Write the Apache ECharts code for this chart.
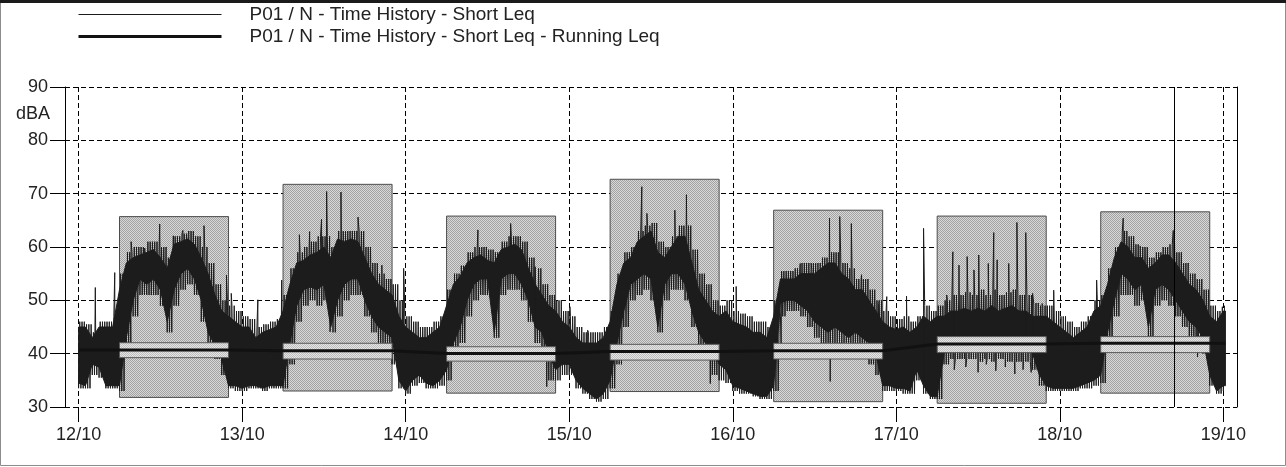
<!DOCTYPE html>
<html>
<head>
<meta charset="utf-8">
<title>P01 / N - Time History</title>
<script src="https://cdn.jsdelivr.net/npm/echarts@6/dist/echarts.min.js"></script>
<style>
  html, body { margin: 0; padding: 0; background: #fff; }
  #chart { width: 1286px; height: 467px; }
</style>
</head>
<body>
<div id="chart"></div>
<script>
// Measurement start: 12/10 00:00 (local time); all series are given in hours from here.
const BASE = new Date(2023, 9, 12, 0, 0, 0).getTime();
const HOUR = 3600000;

// Short Leq, hourly core band (where most samples lie), hours 0..168
const shortLeqLow = [
  34.5, 34, 38, 37.5, 34, 34, 34, 43, 50, 54, 53, 54, 52, 46, 52, 55, 56, 54, 50, 44, 41.5, 39, 34, 34,
  33.5, 34, 34, 33.5, 34, 34, 34, 42, 49, 52, 52.5, 52, 53, 45, 50, 53, 54, 54, 50, 47, 45, 44, 43, 35,
  33, 35, 36, 34.5, 34, 35, 37, 42, 45, 50, 53, 54, 54, 44, 54, 55, 55, 53, 50, 45, 44, 40, 37, 38,
  38, 35, 33.5, 32.5, 31.5, 32.5, 35, 42, 48, 53, 54, 55, 54, 45, 53, 55, 55, 53, 48, 44, 42, 41, 38, 37,
  34, 33.5, 33, 32.5, 32, 32, 34, 49.5, 50, 50, 49, 48, 46, 45, 44, 45, 44, 43, 44, 43, 42, 40, 34, 34,
  33.5, 33.5, 33, 37, 34, 32, 32, 40, 42, 42, 42, 42, 41, 42, 41, 42, 41, 41, 41, 41, 40, 36, 34, 33.5,
  33.5, 33.5, 33.5, 34, 34.5, 35, 36, 44, 50, 55, 54, 52, 53, 45, 52, 53, 52, 50, 48, 46, 45, 43, 36, 33,
  34
];
const shortLeqHigh = [
  45, 45, 43, 45, 45, 45, 52, 57, 58, 58.5, 59, 59.5, 58, 56, 60.5, 61, 61.5, 60.5, 58, 55, 51, 48, 47, 46,
  45, 45, 43, 44, 44.5, 45, 48, 53, 57, 57.5, 58.5, 59, 60, 58, 61.5, 61, 61.5, 61, 58, 55, 53, 52, 51, 47,
  45, 44, 43, 43, 44, 45, 49, 53, 54.5, 57, 58, 58.5, 57.5, 57, 59.5, 60, 60.5, 59.5, 56, 53, 51, 49, 48, 46,
  45, 43, 42, 42, 42, 43, 46, 53, 57, 58, 61, 62, 63, 59, 58, 60, 62, 62, 57, 52, 50, 48, 47, 48,
  46, 45.5, 45, 44, 44, 43, 47, 54, 54, 54, 55, 55, 55, 56, 57, 57, 55, 54, 52, 52, 50, 48, 46, 45,
  44.5, 45, 44, 45, 47, 46, 47, 47, 48, 48, 48.5, 48, 48.5, 48, 49, 48, 48.5, 49, 48, 48, 47, 47, 47, 46,
  45, 44, 43, 44, 45, 48, 49, 53, 58, 61, 60, 58, 58, 56, 57, 58.5, 58.5, 57, 55, 53, 52, 50, 47, 46,
  48
];
// Short Leq, hourly extremes (minimum and maximum sample in each hour), hours 0..168
const shortLeqMin = [
  33.5, 33.5, 36, 35.5, 33.5, 33.5, 33, 40, 47, 51, 51, 51, 49, 44, 49, 52, 53, 51, 46, 41, 39, 36, 33.5, 33,
  33, 33.5, 33.5, 33, 33.5, 33.5, 33.5, 38, 46, 49, 50, 49, 50, 44, 47, 50, 51, 51, 47, 44, 42, 41, 38, 33.5,
  32.5, 34, 34.5, 33.5, 33.5, 34, 35, 39, 42, 47, 50, 51, 51, 43, 51, 52, 52, 50, 46, 42, 40, 35, 35, 36,
  36, 33.5, 32.5, 31.5, 31, 31.5, 33.5, 38, 45, 50, 51, 52, 50, 44, 50, 52, 52, 50, 45, 41, 39, 36, 35, 34.5,
  33, 32.5, 32.5, 32, 31.5, 31.5, 33, 47, 48, 48, 47, 45, 43, 42, 42, 42, 42, 41, 41, 40, 38, 36, 33, 33,
  33, 32.5, 32.5, 35, 32.5, 31.5, 31.5, 38, 39, 39, 39, 39, 38.5, 39, 38.5, 39, 38.5, 38.5, 38.5, 38.5, 37, 34, 33, 33,
  33, 33, 33, 33.5, 33.5, 34, 34.5, 41, 47, 51, 51, 49, 50, 43, 49, 50, 49, 47, 45, 43, 42, 40, 34, 32.5,
  33
];
const shortLeqMax = [
  46, 45.5, 44, 46, 46, 47, 55, 59, 60, 60, 61, 61, 60, 58, 62, 62.5, 63, 62, 60, 57, 53, 50, 49, 48,
  47, 46.5, 45, 45.5, 46, 46.5, 51, 56, 59, 60, 61, 62, 62, 60, 63, 63, 63, 63, 60, 57, 55, 54, 53, 50,
  47, 46, 45, 45, 46, 47, 52, 55, 56.5, 59, 60, 60, 59.5, 59, 61, 62, 62, 61, 58, 56, 53, 51, 50, 48,
  47, 45, 44, 44, 44, 45, 48, 55, 59, 60, 63, 64, 64.5, 61, 60, 62, 64, 64, 59.5, 55, 53, 50, 49, 50,
  48, 47.5, 47, 46, 46, 45, 50, 55.5, 55.5, 56, 57, 57, 57, 58, 59, 59, 57, 56, 54, 54, 52, 50, 48, 47,
  46.5, 47, 46, 47, 49, 48, 49, 50, 51, 51, 51.5, 51, 52, 51, 52, 51, 51.5, 52, 51, 51, 49.5, 49, 49, 48,
  47, 46, 45, 46, 47, 50, 51, 56, 60, 63, 62, 60.5, 60, 58, 59, 60, 60.5, 59, 57, 55, 54, 52, 49, 48,
  49
];
// Isolated events standing out of the trace: [hour, dBA]
const shortLeqPeaks = [
  [2.45, 52.4], [5.3, 55.2], [7.7, 61], [9.7, 59.8], [11.9, 64.3], [13.9, 62.1], [15.3, 63.1], [16.1, 62.4],
  [18.4, 64], [21.2, 38.5], [21.7, 54.7], [22.4, 51.3], [26.3, 50.1],
  [29.8, 53.8], [32.4, 62.3], [33.9, 62.9], [35.65, 65.2], [36.4, 70.4], [36.9, 44.1], [38.5, 70.3],
  [41.0, 65.6], [44.5, 56.6], [47.7, 56], [53.5, 46.3],
  [58.6, 63.2], [61.0, 43.8], [63.4, 64.4], [67.0, 56.3], [68.7, 33.8], [72.1, 48.8], [74.7, 44.4],
  [82.65, 71.3], [83.4, 66.3],
  [87.5, 66.9], [89.2, 69.8], [91.9, 55], [92.7, 34.4], [96.5, 52.6], [103.1, 41],
  [105.9, 56.9], [107.6, 55.7], [109.3, 58.2], [110.2, 65.4], [110.3, 34.8], [111.7, 65.7],
  [113.4, 64.4], [114.9, 54.8], [117.4, 49.4], [118.6, 50.7], [121.5, 50.8], [124.0, 63.5], [127.4, 51],
  [128.3, 59.1], [128.5, 37], [129.2, 56.6], [130.2, 37.5], [130.4, 58.2], [131.4, 55.7], [132.0, 36.5],
  [132.1, 58.5], [133.2, 38], [133.5, 56.9], [134.3, 62.7], [134.6, 36.8], [134.8, 57.6], [136.0, 37.5],
  [136.5, 56.9], [137.4, 36.2], [137.7, 64.6], [138.6, 37], [139.0, 62.7], [139.8, 36.5], [140.0, 51.3],
  [140.8, 37.5], [141.4, 49.4],
  [143.1, 51.9], [149.4, 53.8], [153.3, 65.4], [155.8, 60.2], [159.8, 59.3], [160.65, 63.1],
  [164.2, 39.4], [165.2, 49.4], [167.85, 48.8]
];
const traceEndHour = 168.3;

// Daytime periods 06:00-22:00: start/end hour, min and max level of the period
const periodStart = [6, 30, 54, 78, 102, 126, 150];
const periodEnd = [22, 46, 70, 94, 118, 142, 166];
const periodMin = [31.8, 33, 32.6, 32.9, 31, 30.7, 32.6];
const periodMax = [65.7, 71.75, 65.8, 72.7, 66.9, 65.8, 66.6];
// Band around the running Leq inside each period
const bandLow = [39.25, 39.0, 38.6, 38.8, 39.0, 40.2, 40.2];
const bandHigh = [42.05, 41.95, 41.3, 41.75, 41.95, 43.2, 43.2];

// Running Leq
const runLeqHours = [0, 6, 22, 30, 46, 54, 70, 78, 94, 102, 118, 126, 142, 150, 166, 168.3];
const runLeqValues = [40.7, 40.7, 40.7, 40.55, 40.55, 40.05, 40.05, 40.4, 40.4, 40.55, 40.55, 41.8, 41.8, 41.95, 41.95, 41.95];

// Cursor position (18/10 16:45)
const cursorHour = 160.75;

const seriesNames = [
  'P01 / N - Time History - Short Leq',
  'P01 / N - Time History - Short Leq - Running Leq'
];

const toTime = h => BASE + h * HOUR;
const lastIdx = shortLeqLow.length - 1;

// Core band outline: upper edge forward, lower edge backward
const envHours = shortLeqLow.map((v, i) => i);
envHours.push(traceEndHour);
const envHigh = shortLeqHigh.concat([shortLeqHigh[lastIdx]]);
const envLow = shortLeqLow.concat([shortLeqLow[lastIdx]]);

// Trace: hourly min/max drawn as a dense 10-minute min/max line, with the isolated events merged in
const tracePts = [];
for (let i = 0; i < shortLeqMin.length; i++) {
  for (let k = 0; k < 6; k++) {
    const h = i + k / 6;
    if (h > traceEndHour) break;
    tracePts.push([h, k % 2 ? shortLeqMax[i] : shortLeqMin[i]]);
  }
}
shortLeqPeaks.forEach(p => tracePts.push([p[0], p[1]]));
tracePts.sort((a, b) => a[0] - b[0]);
const traceData = tracePts.map(p => [toTime(p[0]), p[1]]);

const runData = runLeqHours.map((h, i) => [toTime(h), runLeqValues[i]]);
const periodData = periodStart.map((s, i) => [toTime(s), toTime(periodEnd[i]), periodMin[i], periodMax[i]]);
const bandData = periodStart.map((s, i) => [toTime(s), toTime(periodEnd[i]), bandLow[i], bandHigh[i]]);

// Stippled fills
function stipple(dark, light) {
  const c = document.createElement('canvas');
  c.width = 2; c.height = 2;
  const g = c.getContext('2d');
  g.fillStyle = light; g.fillRect(0, 0, 2, 2);
  g.fillStyle = dark; g.fillRect(0, 0, 1, 1); g.fillRect(1, 1, 1, 1);
  return { image: c, repeat: 'repeat' };
}
const periodFill = stipple('#a2a2a2', '#d8d8d8');
const bandFill = stipple('#bcbcbc', '#e6e6e6');

function rectItem(fill, stroke) {
  return function (params, api) {
    const p1 = api.coord([api.value(0), api.value(3)]);
    const p2 = api.coord([api.value(1), api.value(2)]);
    return {
      type: 'rect',
      shape: { x: p1[0], y: p1[1], width: p2[0] - p1[0], height: p2[1] - p1[1] },
      style: { fill: fill, stroke: stroke, lineWidth: 1 }
    };
  };
}

function coreItem(params, api) {
  const pts = [];
  for (let i = 0; i < envHours.length; i++) pts.push(api.coord([toTime(envHours[i]), envHigh[i]]));
  for (let i = envHours.length - 1; i >= 0; i--) pts.push(api.coord([toTime(envHours[i]), envLow[i]]));
  return {
    type: 'polygon',
    shape: { points: pts },
    style: { fill: '#1c1c1c', stroke: '#1c1c1c', lineWidth: 1 }
  };
}

const FONT = "'Liberation Sans', Arial, sans-serif";
const dashed = { color: '#000', width: 1, type: [5, 3] };

const chart = echarts.init(document.getElementById('chart'), null, { renderer: 'canvas' });
chart.setOption({
  animation: false,
  backgroundColor: '#fff',
  textStyle: { fontFamily: FONT },
  graphic: [
    { type: 'rect', z: 100, silent: true, shape: { x: 0.5, y: 0.5, width: 1285, height: 465 }, style: { fill: 'none', stroke: '#8c8c8c', lineWidth: 1 } },
    { type: 'rect', z: 101, silent: true, shape: { x: 0, y: 0, width: 1286, height: 3 }, style: { fill: '#1a1a1a' } }
  ],
  legend: {
    orient: 'vertical',
    left: 77,
    top: 5,
    padding: 0,
    itemWidth: 143,
    itemHeight: 14,
    itemGap: 3,
    selectedMode: false,
    itemStyle: { color: 'rgba(0,0,0,0)', borderColor: 'rgba(0,0,0,0)', borderWidth: 0 },
    lineStyle: { width: 'inherit' },
    data: [
      { name: seriesNames[0], lineStyle: { width: 1 } },
      { name: seriesNames[1], lineStyle: { width: 3 } }
    ],
    textStyle: { fontFamily: FONT, fontSize: 19, color: '#222', padding: [0, 0, 0, 23] }
  },
  grid: { left: 65, right: 49, top: 87, bottom: 60 },
  xAxis: {
    type: 'time',
    min: toTime(-2),
    max: toTime(170),
    minInterval: 24 * HOUR,
    maxInterval: 24 * HOUR,
    splitNumber: 7,
    axisLine: { show: false },
    axisTick: { show: true, length: 15, lineStyle: { color: '#000', width: 1 } },
    axisLabel: { formatter: '{dd}/{MM}', fontFamily: FONT, fontSize: 18, color: '#222', margin: 19 },
    splitLine: { show: true, lineStyle: dashed }
  },
  yAxis: [
    {
      type: 'value',
      min: 30, max: 90, interval: 10,
      name: 'dBA',
      nameLocation: 'end',
      nameGap: -27,
      nameTextStyle: { fontFamily: FONT, fontSize: 18, color: '#222', align: 'right', verticalAlign: 'middle', padding: [0, 15, 0, 0] },
      axisLine: { show: true, lineStyle: { color: '#000', width: 1 } },
      axisTick: { show: true, length: 15, lineStyle: { color: '#000', width: 1 } },
      axisLabel: { fontFamily: FONT, fontSize: 18, color: '#222', margin: 17 },
      splitLine: { show: true, lineStyle: dashed }
    },
    {
      type: 'value',
      position: 'right',
      min: 30, max: 90, interval: 10,
      axisLine: { show: true, lineStyle: { color: '#000', width: 1 } },
      axisTick: { show: false },
      axisLabel: { show: false },
      splitLine: { show: false }
    }
  ],
  series: [
    {
      type: 'custom',
      name: 'periods',
      z: 1,
      silent: true,
      renderItem: rectItem(periodFill, '#4d4d4d'),
      encode: { x: [0, 1], y: [2, 3] },
      data: periodData
    },
    {
      type: 'line',
      name: seriesNames[0],
      z: 2,
      showSymbol: false,
      symbol: 'none',
      silent: true,
      color: '#1c1c1c',
      lineStyle: { color: '#1c1c1c', width: 1 },
      data: traceData
    },
    {
      type: 'custom',
      name: 'core',
      z: 2,
      silent: true,
      renderItem: coreItem,
      data: [[toTime(0), 40]]
    },
    {
      type: 'custom',
      name: 'bands',
      z: 3,
      silent: true,
      renderItem: rectItem(bandFill, '#5a5a5a'),
      encode: { x: [0, 1], y: [2, 3] },
      data: bandData
    },
    {
      type: 'line',
      name: seriesNames[1],
      z: 4,
      showSymbol: false,
      symbol: 'none',
      silent: true,
      color: '#111',
      lineStyle: { color: '#111', width: 3 },
      data: runData,
      markLine: {
        silent: true,
        symbol: 'none',
        label: { show: false },
        lineStyle: { color: '#000', width: 1, type: 'solid' },
        data: [{ xAxis: toTime(cursorHour) }]
      }
    }
  ]
});
</script>
</body>
</html>
